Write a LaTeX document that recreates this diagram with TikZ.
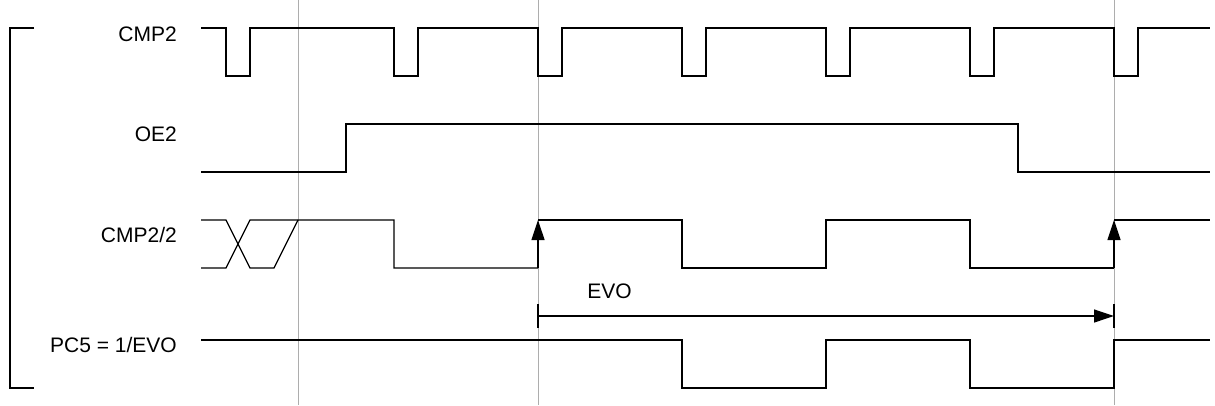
\documentclass[tikz,border=0pt]{standalone}
\usepackage{fontspec}
\setmainfont{Liberation Sans}
\usetikzlibrary{arrows.meta}
\tikzset{
  sig/.style={line width=1.2pt, line join=miter},
  guide/.style={draw=black!32, line width=1pt},
  lbl/.style={anchor=base east, inner sep=0pt, font=\fontsize{21}{25}\selectfont},
  edgetip/.style={-{Triangle[length=20pt,width=13pt]}, line width=1.2pt}
}

\begin{document}
\begin{tikzpicture}[x=1pt,y=-1pt]
\fill[white] (0,0) rectangle (1215,406);
\useasboundingbox (0,0) rectangle (1215,406);
% time markers
\foreach \gx in {298,538,1114} \draw[guide] (\gx,0) -- (\gx,405);
% bracket on the left
\draw[sig] (34,28) -- (10,28) -- (10,388) -- (34,388);
% signal names
\node[lbl] (cmp) at (177,42) {CMP2};
\node[lbl] (oe) at (177,142) {OE2};
\node[lbl] (half) at (177,242) {CMP2/2};
\node[lbl] (pc) at (177,352) {PC5 = 1/EVO};
% CMP2
\draw[sig] (201,28) foreach \px in {226,394,538,682,826,970,1114} {
  -- (\px,28) -- (\px,76) -- (\px+24,76) -- (\px+24,28) } -- (1210,28);
% OE2
\draw[sig] (201,172) -- (346,172) -- (346,124) -- (1018,124) -- (1018,172) -- (1210,172);
% CMP2/2
\draw[sig] (201,220) -- (226,220) -- (250,268) -- (274,268) -- (298,220);
\draw[sig] (201,268) -- (226,268) -- (250,220) -- (394,220) -- (394,268) -- (538,268);
\draw[sig] (538,220) -- (682,220) -- (682,268) -- (826,268) -- (826,220) -- (970,220)
  -- (970,268) -- (1114,268);
\draw[sig] (1114,220) -- (1210,220);
\coordinate (up1a) at (538,268);
\coordinate (up1b) at (538,220);
\coordinate (up2a) at (1114,268);
\coordinate (up2b) at (1114,220);
\draw[edgetip] (up1a) -- (up1b);
\draw[edgetip] (up2a) -- (up2b);
% EVO period
\coordinate (evoL) at (538,316);
\coordinate (evoR) at (1114,316);
\draw[sig] ([yshift=-12pt]evoL) -- ([yshift=12pt]evoL);
\draw[sig] ([yshift=-12pt]evoR) -- ([yshift=12pt]evoR);
\draw[edgetip] (evoL) -- (evoR);
\node[anchor=base, inner sep=0pt, font=\fontsize{21}{25}\selectfont] (evo) at (609.5,298) {EVO};
% PC5
\draw[sig] (201,340) -- (682,340) -- (682,388) -- (826,388) -- (826,340) -- (970,340)
  -- (970,388) -- (1114,388) -- (1114,340) -- (1210,340);
\end{tikzpicture}
\end{document}
